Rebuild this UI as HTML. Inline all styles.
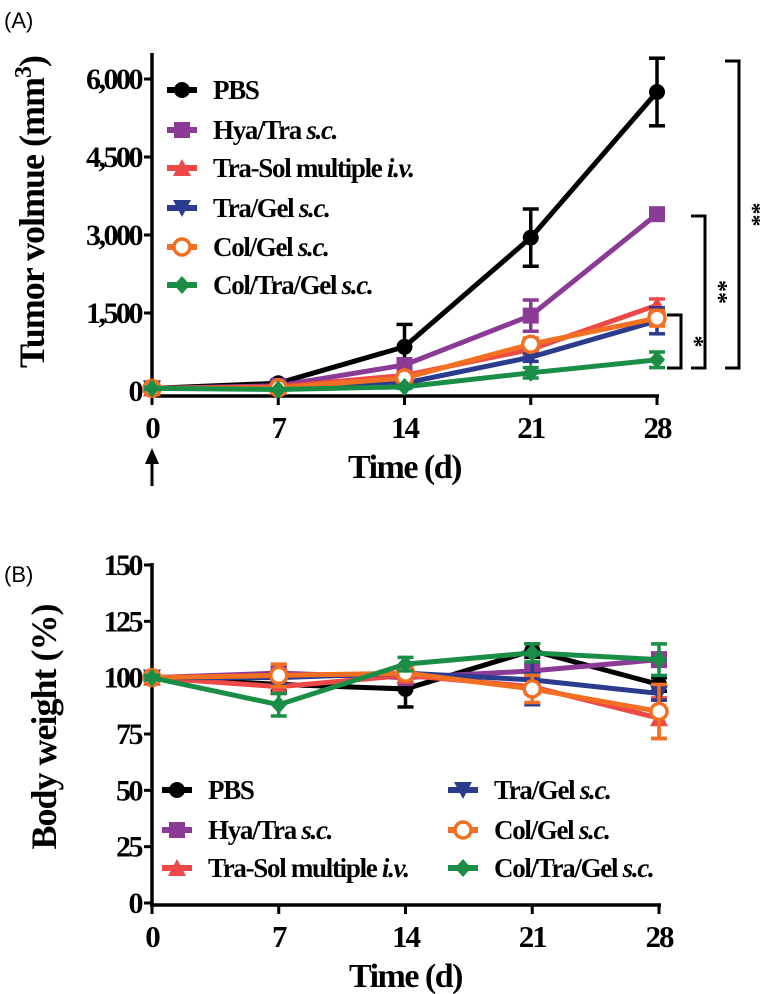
<!DOCTYPE html>
<html><head><meta charset="utf-8"><style>
body{margin:0;background:#fff}
svg{display:block;font-family:"Liberation Serif",serif}
.t{font-weight:bold}
</style></head><body>
<svg id="c" width="760" height="994" viewBox="0 0 760 994" xmlns="http://www.w3.org/2000/svg">
<text x="4" y="28" font-family="Liberation Sans" font-size="22">(A)</text>
<text x="4" y="582" font-family="Liberation Sans" font-size="22">(B)</text>
</svg>
<script>
const days=[0,7,14,21,28];
const seriesNames=["PBS","Hya/Tra","Tra-Sol multiple","Tra/Gel","Col/Gel","Col/Tra/Gel"];
const seriesSuffix=["","s.c.","i.v.","s.c.","s.c.","s.c."];
const colors=["#000000","#8B3A96","#EE4848","#2B3C8F","#F36F21","#1A8E46"];
const markers=["circle","square","tri","tridown","ring","diamond"];
const tumor=[[50,150,850,2950,5750],[50,100,500,1450,3400],[50,80,300,800,1650],[50,60,150,650,1350],[50,60,250,900,1400],[50,30,80,350,600]];
const tumorErr=[[20,40,430,550,650],[20,30,80,300,100],[20,20,60,100,120],[20,20,50,80,250],[20,20,60,120,150],[20,10,30,100,150]];
const weight=[[100,97,95,112,97],[100,102,100,103,108],[100,96,101,96,82],[100,100,102,99,93],[100,101,102,95,85],[100,88,106,111,108]];
const weightErr=[[1,3,8,3,3],[1,3,3,3,3],[1,3,3,3,9],[1,3,3,11,3],[1,5,3,6,12],[1,5,3,4,7]];
const tumorTicks=[0,1500,3000,4500,6000];
const tumorTickLabels=["0","1,500","3,000","4,500","6,000"];
const weightTicks=[0,25,50,75,100,125,150];

const NS="http://www.w3.org/2000/svg";
const svg=document.getElementById('c');
function mk(tag,attrs,parent,txt){const e=document.createElementNS(NS,tag);for(const k in attrs)e.setAttribute(k,attrs[k]);if(txt!==undefined)e.textContent=txt;(parent||svg).appendChild(e);return e;}
function marker(g,type,x,y,c,r){
  if(type==="circle")mk('circle',{cx:x,cy:y,r:r,fill:c},g);
  else if(type==="square")mk('rect',{x:x-r,y:y-r,width:2*r,height:2*r,fill:c},g);
  else if(type==="tri")mk('polygon',{points:`${x},${y-r-1} ${x-r-1},${y+r} ${x+r+1},${y+r}`,fill:c},g);
  else if(type==="tridown")mk('polygon',{points:`${x},${y+r+1} ${x-r-1},${y-r} ${x+r+1},${y-r}`,fill:c},g);
  else if(type==="ring")mk('circle',{cx:x,cy:y,r:r,fill:'#fff',stroke:c,'stroke-width':3.5},g);
  else mk('polygon',{points:`${x},${y-r-1} ${x+r},${y} ${x},${y+r+1} ${x-r},${y}`,fill:c},g);
}
function panel(cfg){
  const xs=d=>cfg.x0+(d/28)*(cfg.x1-cfg.x0);
  const ys=v=>cfg.yZero+(v/cfg.yMax)*(cfg.yTop-cfg.yZero);
  const g=mk('g',{});
  
  
  const ya=mk('line',{x1:cfg.x0,y1:cfg.axTop,x2:cfg.x0,y2:cfg.axY+2,stroke:'#000','stroke-width':3.5},g);
  
  const xa=mk('line',{x1:cfg.x0-2,y1:cfg.axY,x2:cfg.x1+2,y2:cfg.axY,stroke:'#000','stroke-width':3.5},g);
  
  cfg.ticks.forEach((t,i)=>{
    mk('line',{x1:cfg.x0-8,y1:ys(t),x2:cfg.x0,y2:ys(t),stroke:'#000','stroke-width':3},g);
    const tl=mk('text',{x:cfg.x0-11,y:ys(t)+10,'text-anchor':'end','font-size':30,class:'t','letter-spacing':-2.5},g,cfg.tickLabels[i]);
    
  });
  days.forEach(d=>{
    mk('line',{x1:xs(d),y1:cfg.axY,x2:xs(d),y2:cfg.axY+9,stroke:'#000','stroke-width':3},g);
    const tl=mk('text',{x:xs(d),y:cfg.axY+42,'text-anchor':'middle','font-size':31,class:'t','letter-spacing':-2},g,String(d));
    
  });
  const xt=mk('text',{x:(cfg.x0+cfg.x1)/2,y:cfg.axY+82,'text-anchor':'middle','font-size':34,class:'t','letter-spacing':-1.5},g,'Time (d)');
  
  const yt=mk('text',{transform:`translate(${cfg.ytX},${cfg.ytY}) rotate(-90)`,'text-anchor':'middle','font-size':36,class:'t','letter-spacing':-1},g);
  
  yt.innerHTML=cfg.ytHTML;
  cfg.data.forEach((vals,s)=>{
    const sg=mk('g',{},g);
    
    
    mk('polyline',{points:vals.map((v,i)=>xs(days[i])+','+ys(v)).join(' '),fill:'none',stroke:colors[s],'stroke-width':5},sg);
    vals.forEach((v,i)=>{
      const e=cfg.err[s][i],x=xs(days[i]);
      mk('line',{x1:x,y1:ys(v-e),x2:x,y2:ys(v+e),stroke:colors[s],'stroke-width':3.5},sg);
      mk('line',{x1:x-8,y1:ys(v+e),x2:x+8,y2:ys(v+e),stroke:colors[s],'stroke-width':3.5},sg);
      mk('line',{x1:x-8,y1:ys(v-e),x2:x+8,y2:ys(v-e),stroke:colors[s],'stroke-width':3.5},sg);
      marker(sg,markers[s],x,ys(v),colors[s],8);
    });
  });
  cfg.legend.forEach((p,s)=>{
    const lg=mk('g',{},g);
    
    
    mk('line',{x1:p[0]-15,y1:p[1],x2:p[0]+15,y2:p[1],stroke:colors[s],'stroke-width':6},lg);
    marker(lg,markers[s],p[0],p[1],colors[s],8);
    const tx=mk('text',{x:p[0]+31,y:p[1]+9,'font-size':27,class:'t','letter-spacing':-1.3},lg);
    tx.innerHTML=seriesNames[s]+(seriesSuffix[s]?' <tspan font-style="italic">'+seriesSuffix[s]+'</tspan>':'');
  });
  return {g,xs,ys};
}
panel({name:'tumor-volume-chart',x0:152,x1:657,yZero:391,yTop:79,yMax:6000,axTop:53,axY:396,
  ticks:tumorTicks,tickLabels:tumorTickLabels,data:tumor,err:tumorErr,ytX:44,ytY:212,
  ytHTML:'Tumor volmue (mm<tspan baseline-shift="super" font-size="24">3</tspan>)',
  legend:[[182,90],[182,130],[182,168],[182,208],[182,247],[182,285]]});
panel({name:'body-weight-chart',x0:152,x1:659,yZero:903,yTop:565,yMax:150,axTop:563,axY:905,
  ticks:weightTicks,tickLabels:weightTicks.map(String),data:weight,err:weightErr,ytX:56,ytY:727,
  ytHTML:'Body weight (%)',
  legend:[[177,790],[177,830],[177,868],[463,790],[463,830],[463,868]]});
function bracket(x,y1,y2,label,name){
  const g=mk('g',{});
  
  
  mk('polyline',{points:`${x-14},${y1} ${x},${y1} ${x},${y2} ${x-14},${y2}`,fill:'none',stroke:'#000','stroke-width':3},g);
  mk('text',{transform:`translate(${x+6},${(y1+y2)/2}) rotate(90)`,'text-anchor':'middle','font-size':24,class:'t'},g,label);
}
bracket(739,61,368,'**','significance-pbs');
bracket(705,216,368,'**','significance-hya');
bracket(681,315,368,'*','significance-tragel');
const ar=mk('g',{});


mk('line',{x1:152,y1:462,x2:152,y2:486,stroke:'#000','stroke-width':3},ar);
mk('polygon',{points:'152,448 145,464 159,464',fill:'#000'},ar);
</script>
</body></html>
